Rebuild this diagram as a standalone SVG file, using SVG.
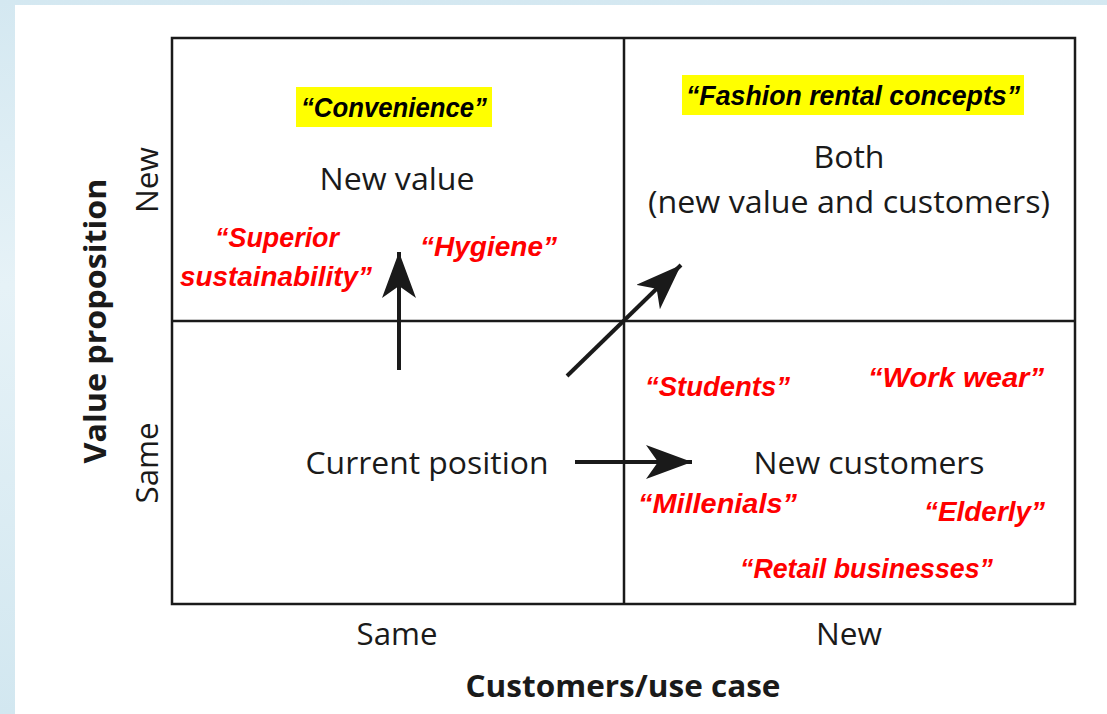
<svg xmlns="http://www.w3.org/2000/svg" width="1107" height="714" viewBox="0 0 1107 714">
<defs>
<linearGradient id="bg" x1="0" y1="0" x2="0" y2="1">
<stop offset="0" stop-color="#d4e8f1"/><stop offset="0.4" stop-color="#e6f2f7"/><stop offset="1" stop-color="#d2e7f0"/>
</linearGradient>
<marker id="ah" viewBox="0 0 46 34" refX="46" refY="17" markerWidth="46" markerHeight="34" markerUnits="userSpaceOnUse" orient="auto">
<path d="M0,0 L46,17 L0,34 L12,17 Z" fill="#1a1a1a"/>
</marker>
<style>
.lbl{font-family:"Open Sans","Liberation Sans",sans-serif;font-size:31px;fill:#1a1a1a;text-anchor:middle}
.ax{font-family:"Open Sans","Liberation Sans",sans-serif;font-size:30px;font-weight:bold;fill:#1a1a1a;text-anchor:middle}
.q{font-family:"Liberation Sans",sans-serif;font-size:28px;font-weight:bold;font-style:italic;fill:#ff0000}
.qk{font-family:"Liberation Sans",sans-serif;font-size:28px;font-weight:bold;font-style:italic;fill:#000}
.line{stroke:#1a1a1a;stroke-width:2.5;fill:none}
.arr{stroke:#1a1a1a;stroke-width:4;fill:none;marker-end:url(#ah)}
</style>
</defs>
<rect width="1107" height="714" fill="url(#bg)"/>
<rect x="15" y="5" width="1092" height="709" fill="#fff"/>
<g id="grid">
<rect class="line" x="172" y="38" width="903" height="566"/>
<line class="line" x1="624" y1="38" x2="624" y2="604"/>
<line class="line" x1="172" y1="321" x2="1075" y2="321"/>
</g>
<g id="node-new-value">
<rect x="296" y="87" width="196" height="40" fill="#ffff00"/>
<text class="qk" x="301" y="117" textLength="186" lengthAdjust="spacingAndGlyphs">“Convenience”</text>
<text class="lbl" x="397" y="190" textLength="155" lengthAdjust="spacingAndGlyphs">New value</text>
<text class="q" x="215" y="247" textLength="124" lengthAdjust="spacingAndGlyphs">“Superior</text>
<text class="q" x="180" y="286" textLength="192" lengthAdjust="spacingAndGlyphs">sustainability”</text>
<text class="q" x="420" y="256" textLength="137" lengthAdjust="spacingAndGlyphs">“Hygiene”</text>
</g>
<g id="node-both">
<rect x="682" y="75" width="342" height="40" fill="#ffff00"/>
<text class="qk" x="686" y="105" textLength="334" lengthAdjust="spacingAndGlyphs">“Fashion rental concepts”</text>
<text class="lbl" x="849" y="168" textLength="71" lengthAdjust="spacingAndGlyphs">Both</text>
<text class="lbl" x="849" y="213" textLength="402" lengthAdjust="spacingAndGlyphs">(new value and customers)</text>
</g>
<g id="node-current">
<text class="lbl" x="427" y="474" textLength="243" lengthAdjust="spacingAndGlyphs">Current position</text>
</g>
<g id="node-new-customers">
<text class="lbl" x="869" y="474" textLength="231" lengthAdjust="spacingAndGlyphs">New customers</text>
<text class="q" x="645" y="396" textLength="145" lengthAdjust="spacingAndGlyphs">“Students”</text>
<text class="q" x="868" y="387" textLength="176" lengthAdjust="spacingAndGlyphs">“Work wear”</text>
<text class="q" x="638" y="513" textLength="159" lengthAdjust="spacingAndGlyphs">“Millenials”</text>
<text class="q" x="924" y="521" textLength="121" lengthAdjust="spacingAndGlyphs">“Elderly”</text>
<text class="q" x="740" y="578" textLength="253" lengthAdjust="spacingAndGlyphs">“Retail businesses”</text>
</g>
<g id="connectors">
<line class="arr" x1="399" y1="370" x2="399" y2="252"/>
<line class="arr" x1="567" y1="376" x2="681" y2="265"/>
<line class="arr" x1="575" y1="462" x2="692" y2="462"/>
</g>
<g id="axes">
<text class="lbl" x="397" y="645" textLength="81" lengthAdjust="spacingAndGlyphs">Same</text>
<text class="lbl" x="849" y="645" textLength="66" lengthAdjust="spacingAndGlyphs">New</text>
<text class="ax" x="623" y="697" textLength="315" lengthAdjust="spacingAndGlyphs">Customers/use case</text>
<text class="ax" transform="translate(106,321) rotate(-90)" textLength="285" lengthAdjust="spacingAndGlyphs">Value proposition</text>
<text class="lbl" transform="translate(158,180) rotate(-90)" textLength="66" lengthAdjust="spacingAndGlyphs">New</text>
<text class="lbl" transform="translate(158,463) rotate(-90)" textLength="81" lengthAdjust="spacingAndGlyphs">Same</text>
</g>
</svg>
